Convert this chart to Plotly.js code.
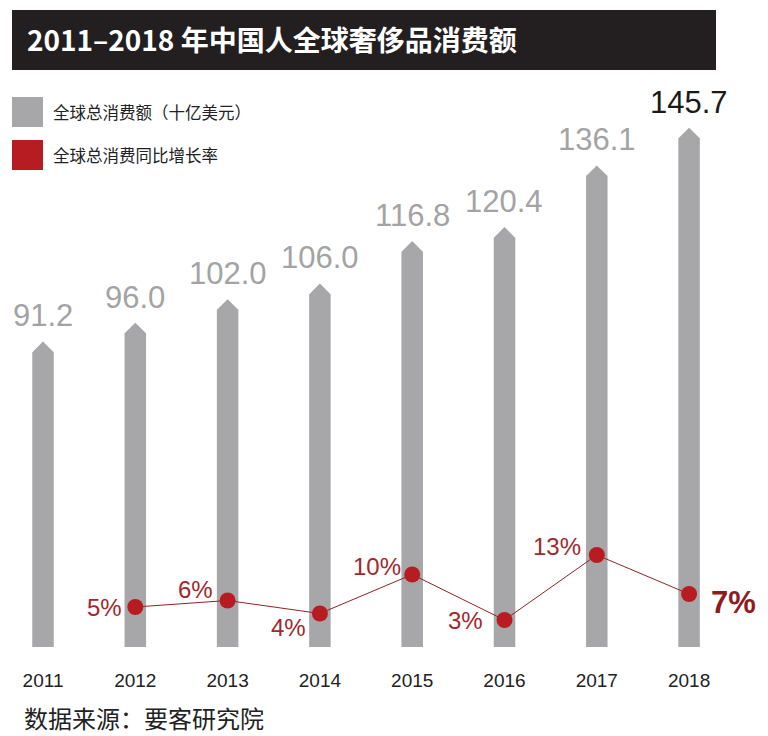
<!DOCTYPE html>
<html>
<head>
<meta charset="utf-8">
<script src="https://cdn.plot.ly/plotly-3.0.1.min.js"></script>
<style>
  html, body { margin: 0; padding: 0; background: #ffffff; }
  #chart { width: 768px; height: 736px; }
</style>
</head>
<body>
<div id="chart"></div>
<script>
// ---------- data ----------
const years = ['2011', '2012', '2013', '2014', '2015', '2016', '2017', '2018'];
const spending = [91.2, 96.0, 102.0, 106.0, 116.8, 120.4, 136.1, 145.7];      // 十亿美元
const growth = [null, 5, 6, 4, 10, 3, 13, 7];                                  // %
const legendLabels = ['全球总消费额（十亿美元）', '全球总消费同比增长率'];
const titleText = '2011–2018 年中国人全球奢侈品消费额';
const sourceText = '数据来源：要客研究院';

// ---------- style ----------
const W = 768, H = 736;
const plotBottomPx = 647;            // bottom of plot area in px
const barGray = '#a7a7a9';
const labelGray = '#a3a3a5';
const dotRed = '#b71c22';
const lineRed = '#8f2326';
const pctRed = '#a2282c';
const cjk = '"Noto Sans CJK SC", "Liberation Sans", sans-serif';
const sans = '"Liberation Sans", Arial, sans-serif';

// label offsets (px) for the growth labels: [xshift, yshift]
const growthShift = [null, [-31, 0], [-32, 11], [-31, -14], [-35, 8], [-39, 0], [-40, 8], [44, -8]];

const py = px => (plotBottomPx - px) / plotBottomPx;   // paper y from px
const pxX = px => px / W;                               // paper x from px
const xIdx = years.map((_, i) => i);

const traces = [
  {
    type: 'bar', x: xIdx, y: spending,
    width: 0.233,
    marker: { color: barGray, line: { width: 0 } },
    hoverinfo: 'y', showlegend: false
  },
  {  // pointed tops of the bars
    type: 'scatter', mode: 'markers', x: xIdx, y: spending,
    marker: { symbol: 'diamond', size: 16, color: barGray, line: { width: 0 } },
    hoverinfo: 'skip', showlegend: false, cliponaxis: false
  },
  {
    type: 'scatter', mode: 'lines+markers', x: xIdx, y: growth, yaxis: 'y2',
    line: { color: lineRed, width: 1 },
    marker: { color: dotRed, size: 16, line: { width: 0 } },
    connectgaps: false, showlegend: false, cliponaxis: false,
    hovertemplate: '%{y}%<extra></extra>'
  }
];

const annotations = [];
spending.forEach((v, i) => {
  const last = i === spending.length - 1;
  annotations.push({
    x: i, y: v, xref: 'x', yref: 'y',
    text: v.toFixed(1), showarrow: false,
    xanchor: 'center', yanchor: 'middle', yshift: 36,
    font: { family: sans, size: 31, color: last ? '#1a1a1a' : labelGray }
  });
});
growth.forEach((g, i) => {
  if (g === null) return;
  const last = i === growth.length - 1;
  annotations.push({
    x: i, y: g, xref: 'x', yref: 'y2',
    text: last ? '<b>' + g + '%</b>' : g + '%', showarrow: false,
    xanchor: 'center', yanchor: 'middle',
    xshift: growthShift[i][0], yshift: growthShift[i][1],
    font: last
      ? { family: sans, size: 31, color: '#8e1b1e' }
      : { family: sans, size: 24, color: pctRed }
  });
});
// legend texts
annotations.push({
  xref: 'paper', yref: 'paper', x: pxX(51), y: py(112), xanchor: 'left', yanchor: 'middle',
  text: legendLabels[0], showarrow: false, font: { family: cjk, size: 16.5, color: '#222222' }
});
annotations.push({
  xref: 'paper', yref: 'paper', x: pxX(51), y: py(155), xanchor: 'left', yanchor: 'middle',
  text: legendLabels[1], showarrow: false, font: { family: cjk, size: 16.5, color: '#222222' }
});
// source
annotations.push({
  xref: 'paper', yref: 'paper', x: pxX(22), y: py(717), xanchor: 'left', yanchor: 'middle',
  text: sourceText, showarrow: false, font: { family: cjk, size: 24, color: '#222222' }
});

const shapes = [
  { type: 'rect', xref: 'paper', yref: 'paper', layer: 'below',
    x0: pxX(12), x1: pxX(716), y0: py(70), y1: py(10),
    fillcolor: '#231f20', line: { width: 0 } },
  { type: 'rect', xref: 'paper', yref: 'paper',
    x0: pxX(12), x1: pxX(43), y0: py(127), y1: py(97),
    fillcolor: barGray, line: { width: 0 } },
  { type: 'rect', xref: 'paper', yref: 'paper',
    x0: pxX(12), x1: pxX(43), y0: py(170), y1: py(140),
    fillcolor: dotRed, line: { width: 0 } }
];

const hiddenAxis = {
  showgrid: false, zeroline: false, showline: false, ticks: '',
  showticklabels: false, fixedrange: true
};

const layout = {
  width: W, height: H,
  margin: { l: 0, r: 0, t: 0, b: H - plotBottomPx, pad: 0 },
  paper_bgcolor: '#ffffff', plot_bgcolor: 'rgba(0,0,0,0)',
  font: { family: sans, color: '#222222' },
  title: {
    text: titleText, x: pxX(27), xanchor: 'left', xref: 'paper',
    y: 1 - 41 / H, yanchor: 'middle', yref: 'container',
    font: { family: cjk, size: 28, color: '#ffffff', weight: 'bold' }
  },
  xaxis: {
    type: 'linear', range: [-0.466, 7.855],
    tickmode: 'array', tickvals: xIdx, ticktext: years,
    showgrid: false, zeroline: false, showline: false, ticks: '',
    tickfont: { size: 19, color: '#222222', family: sans },
    ticklabelstandoff: 20, fixedrange: true
  },
  yaxis: Object.assign({ range: [16.0, 180.9] }, hiddenAxis),
  yaxis2: Object.assign({ range: [-1.154, 98.38], overlaying: 'y', side: 'right' }, hiddenAxis),
  showlegend: false,
  annotations: annotations,
  shapes: shapes
};

Plotly.newPlot('chart', traces, layout, { displayModeBar: false, staticPlot: true });
</script>
</body>
</html>
